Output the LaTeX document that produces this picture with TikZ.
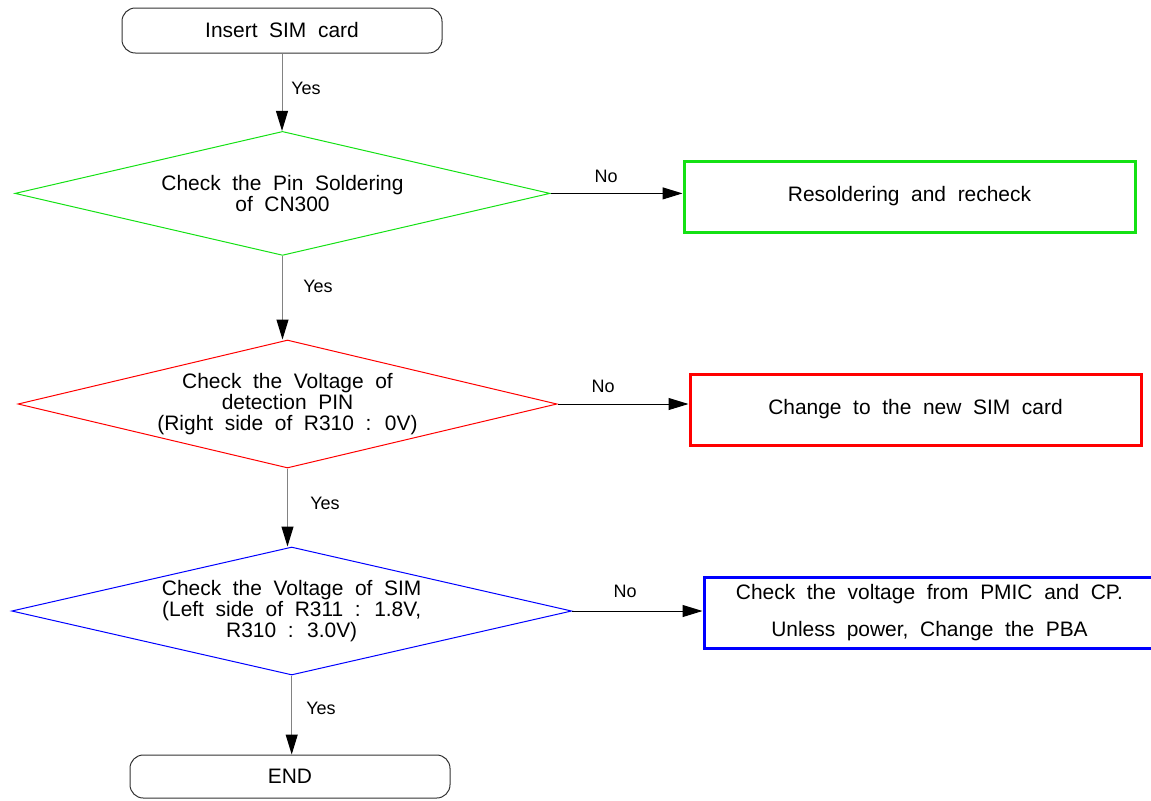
\documentclass[tikz,border=0pt]{standalone}
\usepackage{fontspec}
\setmainfont{Liberation Sans}[WordSpace={2.0,0,0}]
\usetikzlibrary{shapes.geometric,arrows.meta}
\definecolor{gr}{RGB}{20,225,20}
\definecolor{rd}{RGB}{255,0,0}
\definecolor{bl}{RGB}{0,0,255}
\definecolor{cgray}{RGB}{130,130,130}
\begin{document}
\begin{tikzpicture}[x=0.75pt,y=-0.75pt,
  txt/.style={font=\fontsize{15.7}{15.75}\selectfont, text=black},
  term/.style={txt, draw=black!80, line width=0.75pt, rounded corners=10pt,
    minimum width=240pt, inner sep=0pt},
  dec/.style={txt, diamond, aspect=4.3, draw, line width=0.75pt, inner sep=0pt, align=center},
  act/.style={txt, rectangle, draw, line width=2.25pt, minimum width=338.25pt,
    minimum height=53.25pt, inner sep=0pt, align=center},
  tip/.style={-{Triangle[length=15pt,width=9pt,color=black]}},
  vconn/.style={tip, draw=cgray, line width=0.75pt},
  hconn/.style={tip, draw=black, line width=0.75pt},
  lab/.style={font=\fontsize{13.5}{15}\selectfont, text=black, inner sep=0pt}]
\useasboundingbox (0,0) rectangle (1151,800);
\clip (0,0) rectangle (1151,800);

% terminators
\node[term, minimum height=33.75pt] (start) at (282,30.5) {Insert SIM card};
\node[term, minimum height=32.25pt] (end) at (290,776.5) {END};

% decisions
\node[dec, draw=gr, minimum width=401.25pt, minimum height=93pt] (d1) at (282.5,193.4)
  {Check the Pin Soldering\\of CN300};
\node[dec, draw=rd, minimum width=404.25pt, minimum height=96pt] (d2) at (287.5,404)
  {Check the Voltage of\\detection PIN\\(Right side of R310 : 0V)};
\node[dec, draw=bl, minimum width=420pt, minimum height=96pt] (d3) at (291.7,611)
  {Check the Voltage of SIM\\(Left side of R311 : 1.8V,\\R310 : 3.0V)};

% actions
\node[act, draw=gr] (a1) at (909.5,196.5) {Resoldering and recheck};
\node[act, draw=rd] (a2) at (915.5,409.5) {Change to the new SIM card};
\node[act, draw=bl, font=\fontsize{15.7}{27.75}\selectfont] (a3) at (929.5,612.5)
  {Check the voltage from PMIC and CP.\\Unless power, Change the PBA};

% vertical connectors
\draw[vconn] (start.south) -- (start.south |- d1.north);
\draw[vconn] (d1.south) -- (d1.south |- d2.north);
\draw[vconn] (d2.south) -- (d2.south |- d3.north);
\draw[vconn] (d3.south) -- (d3.south |- end.north);

% horizontal connectors
\draw[hconn] (d1.east) -- (d1.east -| a1.west);
\draw[hconn] (d2.east) -- (d2.east -| a2.west);
\draw[hconn] (d3.east) -- (d3.east -| a3.west);

% labels
\node[lab] (y1) at (306,88) {Yes};
\node[lab] (y2) at (318,286) {Yes};
\node[lab] (y3) at (325,503) {Yes};
\node[lab] (y4) at (321,708) {Yes};
\node[lab] (n1) at (606,176) {No};
\node[lab] (n2) at (603,386) {No};
\node[lab] (n3) at (625,591) {No};
\end{tikzpicture}
\end{document}
